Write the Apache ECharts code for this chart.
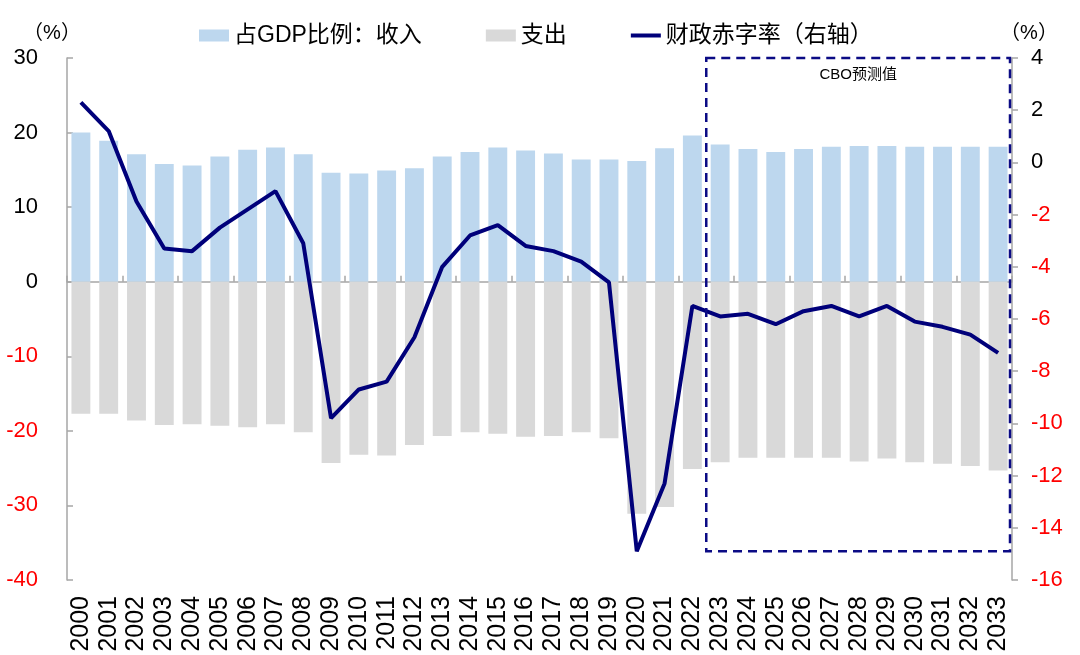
<!DOCTYPE html>
<html>
<head>
<meta charset="utf-8">
<script src="https://cdn.jsdelivr.net/npm/echarts@6/dist/echarts.min.js"></script>
<style>
html,body{margin:0;padding:0;background:#fff;}
#chart{width:1080px;height:655px;}
</style>
</head>
<body>
<div id="chart"></div>
<script>
const years = ['2000','2001','2002','2003','2004','2005','2006','2007','2008','2009','2010','2011','2012','2013','2014','2015','2016','2017','2018','2019','2020','2021','2022','2023','2024','2025','2026','2027','2028','2029','2030','2031','2032','2033'];
const revenue = [20.0,18.9,17.1,15.8,15.6,16.8,17.7,18.0,17.1,14.6,14.5,14.9,15.2,16.8,17.4,18.0,17.6,17.2,16.4,16.4,16.2,17.9,19.6,18.4,17.8,17.4,17.8,18.1,18.2,18.2,18.1,18.1,18.1,18.1];
const expenditure = [-17.7,-17.7,-18.6,-19.2,-19.1,-19.3,-19.5,-19.1,-20.2,-24.3,-23.2,-23.3,-21.9,-20.7,-20.2,-20.4,-20.8,-20.7,-20.2,-21.0,-31.1,-30.2,-25.1,-24.2,-23.6,-23.6,-23.6,-23.6,-24.1,-23.7,-24.2,-24.4,-24.7,-25.3];
const deficit = [2.3,1.2,-1.5,-3.3,-3.4,-2.5,-1.8,-1.1,-3.1,-9.8,-8.7,-8.4,-6.7,-4.0,-2.8,-2.4,-3.2,-3.4,-3.8,-4.6,-14.9,-12.3,-5.5,-5.9,-5.8,-6.2,-5.7,-5.5,-5.9,-5.5,-6.1,-6.3,-6.6,-7.3];
const seriesNames = ['占GDP比例：收入','支出','财政赤字率（右轴）'];
const forecastLabel = 'CBO预测值';
const forecastAfter = '2022';
const forecastFirst = '2023';
const forecastLast = '2033';
const forecastTop = 4;
const forecastBottom = -14.9;

const FONT = '"Liberation Sans","Noto Sans CJK SC",sans-serif';
const axisGray = '#A6A6A6';
const lineColor = '#00007A';
const negColor = (v) => (Number(v) < 0 ? '#FF0000' : '#000000');

const chart = echarts.init(document.getElementById('chart'), null, {renderer:'canvas'});
chart.setOption({
  animation:false,
  backgroundColor:'#fff',
  textStyle:{fontFamily:FONT},
  grid:{left:67, right:68, top:58, bottom:75, containLabel:false},
  legend:{
    left:199, top:24, padding:0,
    itemWidth:30, itemHeight:12, itemGap:64,
    textStyle:{fontSize:23, color:'#000', fontFamily:FONT},
    data:[
      {name:seriesNames[0], icon:'rect'},
      {name:seriesNames[1], icon:'rect'},
      {name:seriesNames[2], icon:'path://M0,0H30V4H0Z', itemStyle:{color:lineColor}}
    ]
  },
  xAxis:[
    {
      type:'category', data:years, position:'bottom',
      axisLine:{show:false, onZero:false},
      axisTick:{show:false},
      axisLabel:{rotate:90, fontSize:25, color:'#000', margin:16, fontFamily:FONT, interval:0}
    },
    {
      type:'category', data:years, position:'bottom',
      axisLine:{show:true, onZero:true, lineStyle:{color:axisGray, width:1.5}},
      axisTick:{show:true, inside:true, length:6, lineStyle:{color:axisGray, width:1.5}},
      axisLabel:{show:false}
    }
  ],
  yAxis:[
    {
      type:'value', min:-40, max:30, interval:10, position:'left',
      name:'（%）', nameLocation:'end', nameGap:15,
      nameTextStyle:{fontSize:20, color:'#000', align:'center', padding:[0,30,0,0], fontFamily:FONT},
      axisLine:{show:true, lineStyle:{color:axisGray, width:1.5}},
      axisTick:{show:true, inside:true, length:6, lineStyle:{color:axisGray, width:1.5}},
      axisLabel:{fontSize:22, margin:29, color:negColor, fontFamily:FONT},
      splitLine:{show:false}
    },
    {
      type:'value', min:-16, max:4, interval:2, position:'right',
      name:'（%）', nameLocation:'end', nameGap:15,
      nameTextStyle:{fontSize:20, color:'#000', align:'center', padding:[0,0,0,34], fontFamily:FONT},
      axisLine:{show:true, lineStyle:{color:axisGray, width:1.5}},
      axisTick:{show:true, inside:false, length:6, lineStyle:{color:axisGray, width:1.5}},
      axisLabel:{fontSize:22, margin:19, color:negColor, fontFamily:FONT},
      splitLine:{show:false}
    }
  ],
  series:[
    {
      name:seriesNames[0], type:'bar', stack:'budget', xAxisIndex:0, yAxisIndex:0,
      data:revenue, barWidth:'68%', itemStyle:{color:'#BDD7EE'}
    },
    {
      name:seriesNames[1], type:'bar', stack:'budget', xAxisIndex:0, yAxisIndex:0,
      data:expenditure, barWidth:'68%', itemStyle:{color:'#D9D9D9'}
    },
    {
      name:seriesNames[2], type:'line', xAxisIndex:0, yAxisIndex:1,
      data:deficit, symbol:'none', z:5,
      lineStyle:{color:lineColor, width:4}, itemStyle:{color:lineColor}
    }
  ]
});

function drawBox(){
  const xa = chart.convertToPixel({xAxisIndex:0}, forecastAfter);
  const xf = chart.convertToPixel({xAxisIndex:0}, forecastFirst);
  const xl = chart.convertToPixel({xAxisIndex:0}, forecastLast);
  const half = (xf - xa) / 2;
  const left = xa + half;
  const right = xl + half - 2;
  const top = chart.convertToPixel({yAxisIndex:1}, forecastTop);
  const bottom = chart.convertToPixel({yAxisIndex:1}, forecastBottom);
  chart.setOption({
    graphic:[
      {
        type:'rect', z:10,
        shape:{x:left, y:top, width:right-left, height:bottom-top},
        style:{fill:null, stroke:'#0B0B85', lineWidth:2.5, lineDash:[9,6]}
      },
      {
        type:'text', z:10,
        x:(left+right)/2, y:top+17,
        style:{text:forecastLabel, fontSize:15, fill:'#000', fontFamily:FONT, align:'center', verticalAlign:'middle'}
      }
    ]
  });
}
drawBox();
</script>
</body>
</html>
